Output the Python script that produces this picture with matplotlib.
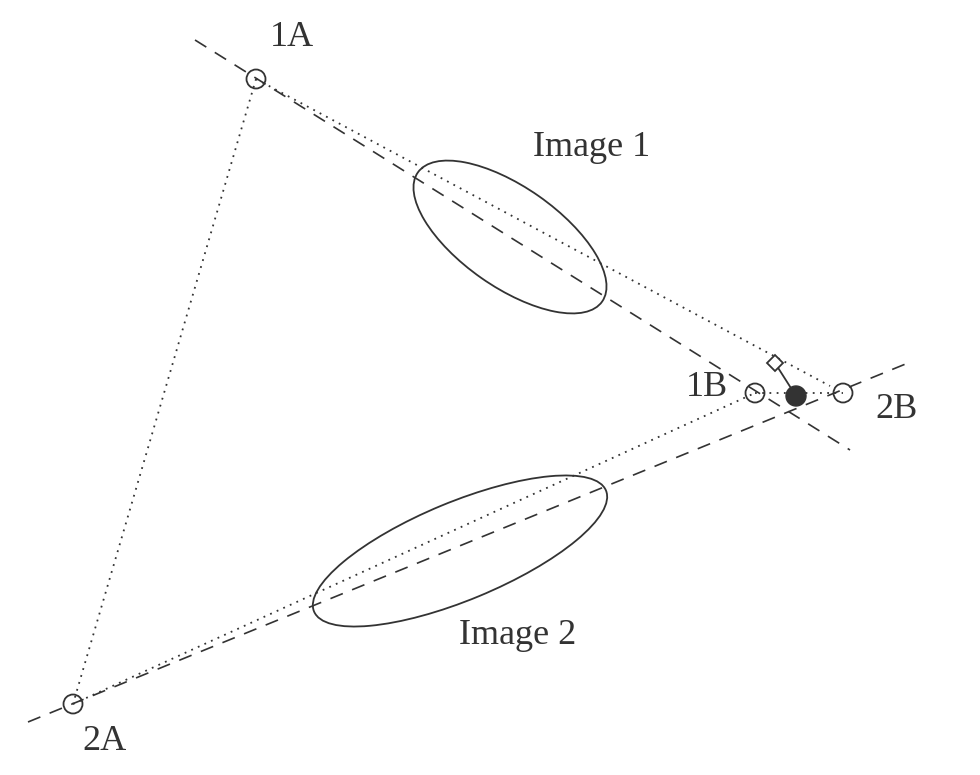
import matplotlib
matplotlib.use("Agg")
import matplotlib.pyplot as plt
from matplotlib.patches import Ellipse, Circle, Polygon

# points in picture coordinates (y down)
cam_pts = {"1A": (256, 79), "2A": (73, 704), "1B": (755, 393), "2B": (843, 393)}
X = (796, 396)       # estimated point
D = (775, 363)       # diamond
labels = {"1A": (292, 38), "2A": (104, 742), "1B": (707, 388), "2B": (896, 410)}
dash1 = [(195, 40), (850, 450)]
dash2 = [(28, 722), (908, 363)]
dotted = [("1A", "2A"), ("2A", "1B"), ("1B", "2B")]
dot_1A = [(256, 79), (830, 386)]
ellipses = [((510, 237), 225, 100, 35), ((460, 551), 316, 98, -22.5)]
img_labels = [("Image 1", (592, 148)), ("Image 2", (518, 636))]

plt.rcParams['font.family'] = ['Liberation Serif', 'DejaVu Serif']
fig = plt.figure(figsize=(9.8, 7.75), dpi=100)
ax = fig.add_axes([0, 0, 1, 1])
ax.set_xlim(0, 980)
ax.set_ylim(775, 0)
ax.set_aspect('equal')
ax.axis('off')
c = '#333333'

for ln in (dash1, dash2):
    ax.plot([ln[0][0], ln[1][0]], [ln[0][1], ln[1][1]], ls=(0, (8, 6)), color=c, lw=1.2)
for a, b in dotted:
    pa, pb = cam_pts[a], cam_pts[b]
    ax.plot([pa[0], pb[0]], [pa[1], pb[1]], ls=(0, (1, 3)), color=c, lw=1.3)
ax.plot([dot_1A[0][0], dot_1A[1][0]], [dot_1A[0][1], dot_1A[1][1]], ls=(0, (1, 3)), color=c, lw=1.3)

for (cx, cy), w, h, ang in ellipses:
    # negative angle because y axis is inverted
    ax.add_patch(Ellipse((cx, cy), w, h, angle=ang, fill=False, ec=c, lw=1.3))

for k, p in cam_pts.items():
    ax.add_patch(Circle(p, 9.5, fill=False, ec=c, lw=1.3, zorder=3))
    ax.text(*labels[k], k, fontsize=26, ha='center', va='center', color=c)

ax.plot([D[0], X[0]], [D[1], X[1]], color=c, lw=1.3)
ax.add_patch(Circle(X, 10, color=c, zorder=4))
ds = 8
ax.add_patch(Polygon([(D[0], D[1] - ds), (D[0] + ds, D[1]), (D[0], D[1] + ds), (D[0] - ds, D[1])],
                     closed=True, fc='white', ec=c, lw=1.3, zorder=4))

for t, p in img_labels:
    ax.text(*p, t, fontsize=26, ha='center', va='center', color=c)

fig.savefig("out.png", dpi=100)
